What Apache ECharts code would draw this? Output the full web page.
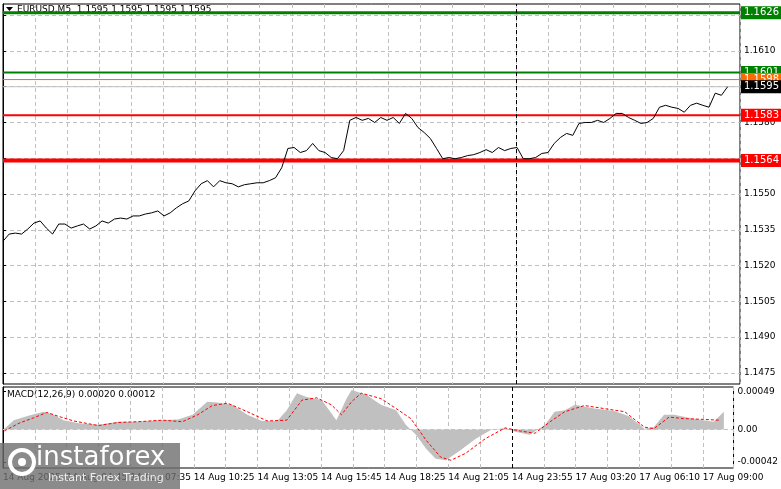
<!DOCTYPE html>
<html>
<head>
<meta charset="utf-8">
<script src="https://cdn.jsdelivr.net/npm/echarts@6/dist/echarts.min.js"></script>
<style>html,body{margin:0;padding:0;background:#fff}#c{width:781px;height:489px}</style>
</head>
<body>
<div id="c"></div>
<script>
// EURUSD M5 close left to right
const price = [
  1.15302, 1.15332, 1.15336, 1.15332, 1.15353, 1.15378, 1.15387, 1.15357, 1.15332, 1.15374,
  1.15374, 1.15357, 1.15366, 1.15374, 1.15353, 1.15366, 1.15387, 1.15378, 1.15395, 1.15399,
  1.15395, 1.15408, 1.15408, 1.15416, 1.15421, 1.15429, 1.15408, 1.15421, 1.15442, 1.15459,
  1.15471, 1.15513, 1.15543, 1.15556, 1.15530, 1.15556, 1.15547, 1.15543, 1.15530, 1.15539,
  1.15543, 1.15547, 1.15547, 1.15556, 1.15568, 1.15610, 1.15691, 1.15695, 1.15674, 1.15682,
  1.15712, 1.15682, 1.15674, 1.15653, 1.15648, 1.15682, 1.15809, 1.15821, 1.15809, 1.15817,
  1.15800, 1.15821, 1.15809, 1.15821, 1.15796, 1.15838, 1.15817, 1.15779, 1.15758, 1.15733,
  1.15691, 1.15648, 1.15653, 1.15648, 1.15653, 1.15661, 1.15665, 1.15674, 1.15686, 1.15674,
  1.15695, 1.15682, 1.15691, 1.15695, 1.15648, 1.15648, 1.15653, 1.15670, 1.15674, 1.15712,
  1.15737, 1.15754, 1.15746, 1.15796, 1.15800, 1.15800, 1.15809, 1.15800, 1.15817, 1.15838,
  1.15838, 1.15821, 1.15809, 1.15796, 1.15800, 1.15817, 1.15864, 1.15872, 1.15864, 1.15859,
  1.15843, 1.15872, 1.15881, 1.15872, 1.15864, 1.15923, 1.15914, 1.15950,
]

// MACD histogram: time in label steps, value
const histT = [0.02, 0.17, 0.41, 0.64, 0.80, 0.95, 1.19, 1.50, 1.81, 2.12, 2.43, 2.75, 2.98, 3.21,
  3.37, 3.60, 3.84, 4.07, 4.31, 4.46, 4.62, 4.77, 5.01, 5.16, 5.24, 5.40, 5.48, 5.71, 5.94, 6.18,
  6.33, 6.49, 6.65, 6.80, 6.96, 7.19, 7.43, 7.66, 7.89, 8.05, 8.28, 8.52, 8.67, 8.83, 8.99, 9.30,
  9.61, 9.84, 10.08, 10.23, 10.39, 10.55, 10.78, 11.01, 11.17, 11.33]
const hist = [0.00001, 0.00012, 0.00018, 0.00023, 0.00019, 0.00012, 0.00008, 0.00006, 0.0001, 0.0001,
  0.00012, 0.00013, 0.00019, 0.00036, 0.00035, 0.00032, 0.00019, 0.00011, 0.00011, 0.00025, 0.00047,
  0.00042, 0.00038, 0.00021, 0.00012, 0.0004, 0.00051, 0.00045, 0.00032, 0.00025, 0.00006, -0.00007,
  -0.00025, -0.00038, -0.0004, -0.00027, -0.00012, -0.00001, 0.00002, -0.00003, -0.00007, 0.00006,
  0.00023, 0.00025, 0.00032, 0.00027, 0.00024, 0.00017, 0.00001, 0.00003, 0.00019, 0.00019,
  0.00015, 0.00012, 0.0001, 0.00023]

// MACD signal line
const sigT = [0.02, 0.25, 0.48, 0.69, 0.87, 1.11, 1.50, 1.81, 2.12, 2.51, 2.82, 3.06, 3.29, 3.53,
  3.84, 4.15, 4.46, 4.70, 4.93, 5.16, 5.32, 5.48, 5.63, 5.94, 6.18, 6.41, 6.65, 6.88, 7.04, 7.27,
  7.58, 7.89, 8.13, 8.36, 8.60, 8.83, 9.14, 9.45, 9.77, 10.08, 10.23, 10.47, 10.70, 11.01, 11.25]
const signal = [-0.00002, 0.00008, 0.00015, 0.00022, 0.00017, 0.00011, 0.00005, 0.00009, 0.0001,
  0.00012, 0.0001, 0.00019, 0.00031, 0.00034, 0.00023, 0.00011, 0.00012, 0.00038, 0.00041, 0.00032,
  0.00019, 0.00036, 0.00047, 0.0004, 0.00027, 0.00014, -0.00014, -0.00036, -0.0004, -0.00031,
  -0.00012, 0.00002, -0.00002, -0.00005, 0.0001, 0.00023, 0.00031, 0.00027, 0.00023, 0.00003,
  0.00001, 0.00016, 0.00014, 0.00013, 0.00012]

const timeLabels = ['14 Aug 2025', '14 Aug 04:45', '14 Aug 07:35', '14 Aug 10:25', '14 Aug 13:05',
  '14 Aug 15:45', '14 Aug 18:25', '14 Aug 21:05', '14 Aug 23:55', '17 Aug 03:20', '17 Aug 06:10',
  '17 Aug 09:00']
const priceTicks = [1.1475, 1.149, 1.1505, 1.152, 1.1535, 1.155, 1.1565, 1.158, 1.1595, 1.161, 1.1625]
const macdTicks = [-0.00042, 0, 0.00049]

// level: value, colour, width, label bg
const levels = [
  [1.1626, '#008000', 3, '#008000'],
  [1.1601, '#008000', 2, '#008000'],
  [1.1598, '#ff6a00', 1, '#ff6a00'],
  [1.1595, '#c0c0c0', 1, '#000000'],
  [1.1583, '#ff0000', 2, '#ff0000'],
  [1.1564, '#ff0000', 4, '#ff0000'],
]

const font = 'DejaVu Sans'
const pad = Math.round((price.length - 1) * 13 / 723)
const cats = price.map((_, i) => i).concat(Array.from({ length: pad }, (_, i) => price.length + i))
const dash = { type: [4, 3], color: '#c0c0c0', width: 1 }
const tMax = 736 / 64.1

const timeAxis = (grid, showLabels) => ({
  type: 'value', gridIndex: grid, min: 0, max: tMax, interval: 0.5,
  axisLine: { show: false }, axisTick: { show: false },
  splitLine: { show: true, lineStyle: dash },
  axisLabel: {
    show: showLabels, fontFamily: font, fontSize: 9, color: '#000', align: 'left', margin: 5,
    showMaxLabel: false,
    formatter: v => (Math.abs(v - Math.round(v)) < 1e-6 ? timeLabels[Math.round(v)] || '' : ''),
  },
})

const sepLine = {
  silent: true, symbol: 'none', label: { show: false },
  lineStyle: { type: [4, 3], color: '#000', width: 1 },
  data: [{ xAxis: 8 }],
}

echarts.init(document.getElementById('c'), null, { renderer: 'canvas' }).setOption({
  animation: false,
  backgroundColor: '#fff',
  grid: [
    { left: 3, right: 41, top: 4, height: 380, show: true, borderColor: '#000', borderWidth: 1 },
    { left: 3, right: 41, top: 387, height: 81, show: true, borderColor: '#000', borderWidth: 1 },
  ],
  xAxis: [
    { type: 'category', gridIndex: 0, data: cats, boundaryGap: false, show: false },
    timeAxis(0, false),
    timeAxis(1, true),
  ],
  yAxis: [
    {
      type: 'value', gridIndex: 0, position: 'right', min: 1.14703, max: 1.16297,
      axisLine: { show: true, lineStyle: { color: '#000' } },
      axisTick: { show: true, length: 3, customValues: priceTicks, lineStyle: { color: '#000' } },
      axisLabel: { fontFamily: font, fontSize: 9, color: '#000', margin: 4, customValues: priceTicks,
        formatter: v => v.toFixed(4) },
      splitLine: { show: true, lineStyle: dash },
    },
    {
      type: 'value', gridIndex: 1, position: 'right', min: -0.0005, max: 0.00055,
      axisLine: { show: true, lineStyle: { color: '#000' } },
      axisTick: { show: true, length: 3, customValues: macdTicks, lineStyle: { color: '#000' } },
      axisLabel: { fontFamily: font, fontSize: 9, color: '#000', margin: 4, customValues: macdTicks,
        formatter: v => (v === 0 ? '0.00' : v.toFixed(5)) },
      splitLine: { show: false },
    },
  ],
  series: [
    {
      type: 'line', xAxisIndex: 0, yAxisIndex: 0, data: price, symbol: 'none',
      lineStyle: { color: '#000', width: 1 }, z: 5,
    },
    // level lines with price boxes on the right
    ...levels.map((l, k) => ({
      type: 'line', xAxisIndex: 1, yAxisIndex: 0, symbol: 'none', z: 4 + k * 0.01,
      data: [[0, l[0]], [tMax, l[0]]],
      lineStyle: { color: l[1], width: l[2] },
      endLabel: {
        show: true, distance: 1, formatter: l[0].toFixed(4),
        backgroundColor: l[3], color: '#fff', fontFamily: font, fontSize: 10,
        padding: [2, 3, 1, 3], width: 36,
      },
    })),
    { type: 'line', xAxisIndex: 1, yAxisIndex: 0, data: [], markLine: sepLine },
    {
      type: 'line', xAxisIndex: 2, yAxisIndex: 1, symbol: 'none',
      data: histT.map((t, i) => [t, hist[i]]),
      lineStyle: { width: 0 }, areaStyle: { color: '#c0c0c0', opacity: 1, origin: 0 },
      markLine: sepLine,
    },
    {
      type: 'line', xAxisIndex: 2, yAxisIndex: 1, symbol: 'none',
      data: sigT.map((t, i) => [t, signal[i]]),
      lineStyle: { color: '#ff0000', width: 1, type: [3, 2] }, z: 5,
    },
    {
      type: 'line', xAxisIndex: 2, yAxisIndex: 1, data: [],
      markLine: { silent: true, symbol: 'none', label: { show: false },
        lineStyle: { type: [4, 3], color: '#c0c0c0', width: 1 }, data: [{ yAxis: 0 }] },
    },
  ],
  graphic: [
    { type: 'polygon', shape: { points: [[6, 7], [13, 7], [9.5, 11]] }, style: { fill: '#000' }, z: 100 },
    { type: 'text', left: 17, top: 5, z: 1,
      style: { text: 'EURUSD,M5  1.1595 1.1595 1.1595 1.1595', font: '9px "DejaVu Sans"', fill: '#000' } },
    { type: 'text', left: 7, top: 390,
      style: { text: 'MACD(12,26,9) 0.00020 0.00012', font: '9px "DejaVu Sans"', fill: '#000' } },
    { type: 'rect', left: 0, top: 443, shape: { width: 180, height: 46 },
      style: { fill: 'rgba(110,110,110,0.8)' }, z: 200 },
    { type: 'circle', shape: { cx: 22, cy: 462, r: 12 },
      style: { fill: 'none', stroke: '#fff', lineWidth: 4 }, z: 201 },
    { type: 'circle', shape: { cx: 22, cy: 462, r: 4 }, style: { fill: '#fff' }, z: 201 },
    { type: 'text', left: 36, top: 445, z: 201,
      style: { text: 'instaforex', font: '26px "DejaVu Sans"', fill: '#fff' } },
    { type: 'text', left: 48, top: 473, z: 201,
      style: { text: 'Instant Forex Trading', font: '11px "DejaVu Sans"', fill: '#eee' } },
  ],
})
</script>
</body>
</html>
